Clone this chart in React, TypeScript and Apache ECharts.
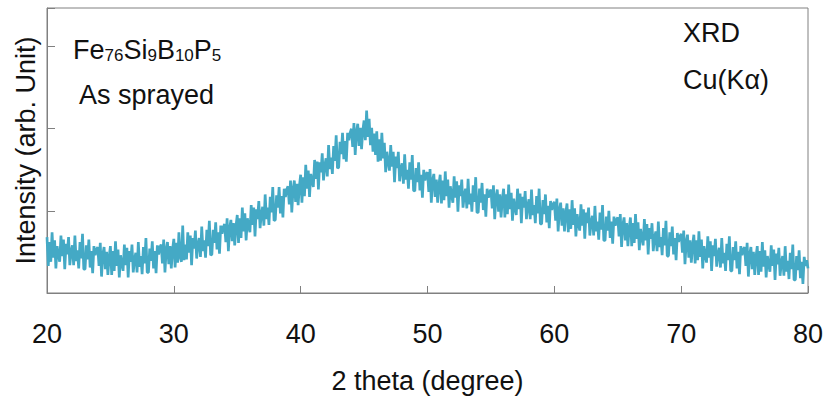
import React, { useEffect, useRef } from "react";
import * as echarts from "echarts";

// 2θ from 20 to 80 in 0.1° steps (one row = 1°)
const thetaStart = 20;
const thetaStep = 0.1;
const intensity: number[] = [
  68, 33, 62, 38, 74, 43, 64, 30, 57, 46,
  38, 70, 45, 65, 29, 60, 47, 68, 34, 50,
  58, 34, 70, 39, 52, 30, 62, 42, 72, 29,
  29, 58, 41, 65, 31, 51, 24, 57, 46, 53,
  56, 33, 61, 20, 47, 56, 29, 50, 22, 44,
  57, 22, 51, 27, 63, 33, 53, 19, 46, 35,
  27, 59, 34, 55, 19, 51, 38, 59, 25, 41,
  49, 25, 62, 32, 45, 23, 56, 36, 67, 25,
  25, 54, 39, 63, 30, 51, 24, 58, 47, 56,
  59, 36, 65, 25, 53, 62, 35, 57, 30, 53,
  66, 31, 61, 37, 74, 44, 38, 82, 40, 59,
  41, 74, 49, 70, 34, 67, 54, 76, 42, 59,
  67, 44, 81, 51, 64, 43, 77, 57, 88, 46,
  47, 77, 61, 86, 53, 74, 48, 82, 72, 80,
  84, 62, 91, 51, 79, 89, 63, 85, 58, 81,
  95, 61, 91, 67, 104, 75, 97, 64, 91, 81,
  74, 107, 83, 104, 69, 102, 90, 112, 79, 96,
  105, 82, 120, 90, 104, 83, 117, 98, 129, 88,
  89, 119, 104, 129, 97, 118, 92, 127, 117, 126,
  130, 108, 137, 98, 126, 137, 111, 133, 107, 130,
  144, 110, 141, 118, 156, 127, 149, 117, 145, 136,
  129, 162, 139, 160, 126, 159, 147, 170, 137, 155,
  164, 142, 180, 151, 165, 145, 179, 161, 192, 152,
  153, 184, 169, 195, 163, 185, 160, 195, 186, 195,
  200, 178, 207, 168, 196, 206, 179, 201, 175, 198,
  210, 186, 222, 190, 212, 180, 201, 172, 194, 168,
  197, 160, 187, 161, 195, 164, 183, 147, 172, 159,
  149, 180, 154, 172, 135, 166, 152, 172, 136, 151,
  158, 133, 169, 138, 150, 127, 159, 138, 168, 125,
  124, 152, 135, 159, 125, 144, 116, 150, 137, 145,
  147, 123, 151, 110, 137, 145, 117, 138, 110, 132,
  144, 109, 137, 113, 148, 118, 138, 104, 130, 119,
  110, 142, 116, 136, 99, 131, 118, 138, 104, 119,
  127, 103, 139, 108, 121, 99, 131, 111, 141, 98,
  98, 127, 110, 134, 101, 120, 93, 127, 116, 123,
  126, 103, 131, 90, 117, 126, 99, 120, 92, 114,
  127, 92, 120, 96, 132, 102, 122, 88, 115, 103,
  95, 127, 102, 121, 85, 117, 104, 124, 90, 106,
  114, 90, 126, 95, 107, 85, 118, 97, 127, 84,
  84, 113, 96, 120, 86, 106, 79, 112, 101, 108,
  111, 88, 115, 75, 101, 110, 82, 103, 75, 97,
  109, 74, 102, 78, 113, 83, 103, 69, 96, 84,
  76, 108, 82, 102, 66, 98, 85, 104, 70, 86,
  94, 70, 106, 75, 87, 65, 98, 77, 107, 64,
  64, 93, 76, 100, 67, 87, 60, 93, 82, 89,
  92, 69, 96, 56, 83, 92, 64, 85, 57, 79,
  92, 57, 85, 61, 96, 66, 86, 52, 78, 67,
  58, 90, 64, 84, 47, 79, 66, 85, 51, 67,
  75, 51, 87, 56, 68, 46, 79, 58, 88, 45,
  45, 74, 57, 81, 47, 67, 40, 73, 62, 69,
  72, 49, 76, 35, 62, 71, 43, 64, 37, 58,
  71, 36, 64, 40, 75, 44, 65, 30, 57, 46,
  37, 69, 43, 63, 27, 58, 45, 66, 32, 47,
  55, 31, 67, 36, 49, 27, 60, 40, 69, 27,
  27, 56, 40, 63, 30, 50, 23, 57, 46, 53,
  56, 33, 61, 20, 47, 56, 29, 50, 22, 44,
  57, 22, 51, 26, 62, 32, 52, 19, 45, 34,
  26, 58, 33, 53, 16, 48, 35, 55, 21, 37,
  45, 21, 57, 26, 39, 17, 49, 29, 59, 16,
  16, 45, 28, 52, 18, 38, 11, 44, 33, 40,
  30,
];

const xTicks = [20, 30, 40, 50, 60, 70, 80];
const xAxisName = "2 theta (degree)";
const yAxisName = "Intensity (arb. Unit)";
const sampleLines = ["Fe{s|76}Si{s|9}B{s|10}P{s|5}", "As sprayed"];
const sourceLines = ["XRD", "Cu(Kα)"];

const FONT = "'Liberation Sans', Arial, sans-serif";

export default function App() {
  const ref = useRef<HTMLDivElement>(null);
  useEffect(() => {
    document.body.style.margin = "0";
    const chart = echarts.init(ref.current!, undefined, { renderer: "svg" });
    const data = intensity.map((v, i) => [
      +(thetaStart + i * thetaStep).toFixed(2),
      v,
    ]);
    chart.setOption({
      animation: false,
      backgroundColor: "#ffffff",
      textStyle: { fontFamily: FONT },
      grid: {
        left: 47,
        right: 19,
        top: 8,
        bottom: 108,
        outerBoundsMode: "none",
        containLabel: false,
        show: true,
        borderColor: "#808080",
        borderWidth: 1,
      },
      xAxis: {
        type: "value",
        min: xTicks[0],
        max: xTicks[xTicks.length - 1],
        interval: 10,
        name: xAxisName,
        nameLocation: "middle",
        nameGap: 74,
        nameTextStyle: { fontSize: 27, color: "#111", fontFamily: FONT },
        axisLine: { lineStyle: { color: "#808080", width: 1 } },
        axisTick: { inside: true, length: 7, lineStyle: { color: "#808080" } },
        axisLabel: { fontSize: 27, color: "#111", margin: 27, fontFamily: FONT },
        splitLine: { show: false },
      },
      yAxis: {
        type: "value",
        min: 0,
        max: 347,
        interval: 100,
        name: yAxisName,
        nameLocation: "middle",
        nameGap: 8,
        nameTextStyle: { fontSize: 27, color: "#111", fontFamily: FONT },
        axisLine: { show: true, lineStyle: { color: "#808080", width: 1 } },
        axisTick: { show: true, inside: true, length: 8, lineStyle: { color: "#808080" } },
        axisLabel: { show: false },
        splitLine: { show: false },
      },
      series: [
        {
          type: "line",
          data,
          showSymbol: false,
          symbol: "none",
          lineStyle: { color: "#44a9c5", width: 2.7 },
          clip: true,
        },
      ],
      graphic: [
        {
          type: "text",
          left: 73,
          top: 36,
          style: {
            text: sampleLines[0],
            fontSize: 27,
            fontFamily: FONT,
            fill: "#111",
            rich: {
              s: { fontSize: 17, fontFamily: FONT, fill: "#111", padding: [12, 0, 0, 0] },
            },
          },
        },
        {
          type: "text",
          left: 79,
          top: 81,
          style: { text: sampleLines[1], fontSize: 27, fontFamily: FONT, fill: "#111" },
        },
        {
          type: "text",
          left: 683,
          top: 19,
          style: { text: sourceLines[0], fontSize: 27, fontFamily: FONT, fill: "#111" },
        },
        {
          type: "text",
          left: 683,
          top: 66,
          style: { text: sourceLines[1], fontSize: 27, fontFamily: FONT, fill: "#111" },
        },
      ],
    });
    return () => chart.dispose();
  }, []);
  return <div ref={ref} style={{ width: 827, height: 401 }} />;
}
